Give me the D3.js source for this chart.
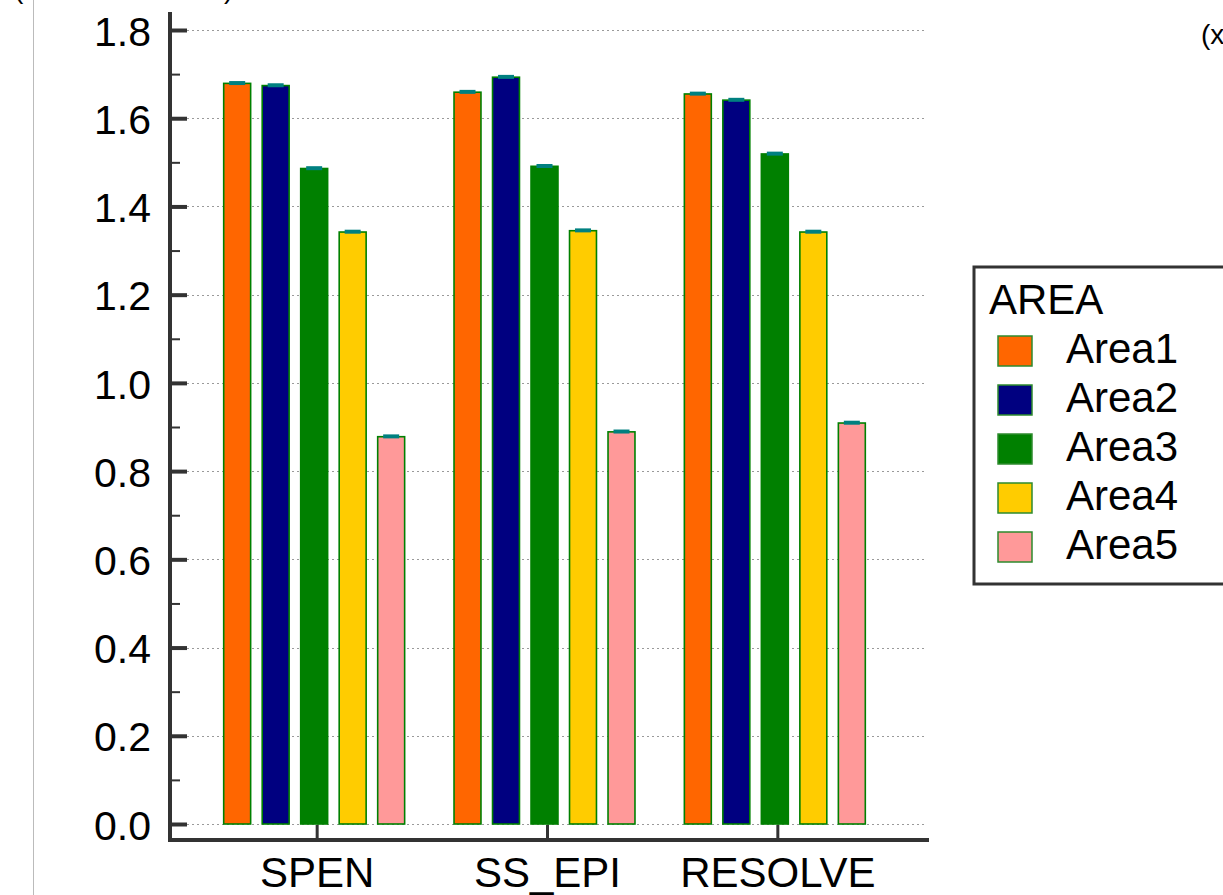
<!DOCTYPE html>
<html>
<head>
<meta charset="utf-8">
<script src="https://cdn.jsdelivr.net/npm/d3@7/dist/d3.min.js"></script>
<style>
  html, body { margin: 0; padding: 0; background: #fff; }
  svg { display: block; }
  text { font-family: "Liberation Sans", Arial, sans-serif; fill: #000; }
</style>
</head>
<body>
<svg id="chart" width="1223" height="895"></svg>
<script>
// ---- data ----
const categories = ["SPEN", "SS_EPI", "RESOLVE"];
const series = ["Area1", "Area2", "Area3", "Area4", "Area5"];
const area1 = [1.679, 1.659, 1.655];
const area2 = [1.674, 1.693, 1.641];
const area3 = [1.486, 1.491, 1.519];
const area4 = [1.342, 1.345, 1.342];
const area5 = [0.878, 0.889, 0.909];
const errors = [0.003, 0.003, 0.003];
const yTicks = [0.0, 0.2, 0.4, 0.6, 0.8, 1.0, 1.2, 1.4, 1.6, 1.8];
const yMinorTicks = [0.1, 0.3, 0.5, 0.7, 0.9, 1.1, 1.3, 1.5, 1.7];
const legendTitle = "AREA";
const colors = ["#FF6600", "#000080", "#008000", "#FFCC00", "#FF9999"];

const values = [area1, area2, area3, area4, area5];

const svg = d3.select("#chart");

// left frame line
svg.append("line").attr("x1", 33.5).attr("x2", 33.5).attr("y1", 0).attr("y2", 895)
  .attr("stroke", "#bbb").attr("stroke-width", 1);

// clipped texts at edges
svg.append("text").attr("x", 14).attr("y", -2).attr("font-size", 28).text("(");
svg.append("text").attr("x", 224).attr("y", -2).attr("font-size", 28).text(")");
svg.append("text").attr("x", 1201).attr("y", 44).attr("font-size", 28).text("(x");

const y = d3.scaleLinear().domain([0, 1.8]).range([824, 30]);
const x = d3.scaleBand().domain(categories).range([202, 893]).padding(0);
const x1 = d3.scaleBand().domain(series)
  .range([x.bandwidth() / 2 - 99.25, x.bandwidth() / 2 + 93.25])
  .paddingInner(0.3).paddingOuter(0.15);
const color = d3.scaleOrdinal().domain(series).range(colors);

// gridlines
svg.append("g").selectAll("line").data(yTicks).join("line")
  .attr("x1", 187).attr("x2", 926)
  .attr("y1", d => Math.round(y(d)) + 0.5).attr("y2", d => Math.round(y(d)) + 0.5)
  .attr("stroke", "#9a9a9a").attr("stroke-width", 1).attr("stroke-dasharray", "2,3");

// bars
const groups = svg.append("g").selectAll("g").data(categories).join("g")
  .attr("transform", d => `translate(${x(d)},0)`);

groups.each(function(cat, ci) {
  const g = d3.select(this);
  series.forEach((s, si) => {
    const v = values[si][ci];
    g.append("rect")
      .attr("x", x1(s)).attr("y", y(v))
      .attr("width", x1.bandwidth()).attr("height", y(0) - y(v))
      .attr("fill", color(s)).attr("stroke", "#008000").attr("stroke-width", 1.6);
    const e = errors[ci];
    const cx = x1(s) + x1.bandwidth() / 2;
    g.append("line").attr("x1", cx).attr("x2", cx).attr("y1", y(v)).attr("y2", y(v + e))
      .attr("stroke", "#008080").attr("stroke-width", 2);
    g.append("line").attr("x1", cx - 8).attr("x2", cx + 8)
      .attr("y1", y(v + e) + 1).attr("y2", y(v + e) + 1)
      .attr("stroke", "#008080").attr("stroke-width", 4);
  });
});

// y axis
const yAxis = d3.axisRight(y).tickValues(yTicks).tickSize(17).tickFormat("");
const gy = svg.append("g").attr("transform", "translate(170,0)").call(yAxis);
gy.select(".domain").remove();
gy.selectAll(".tick line").attr("stroke", "#333").attr("stroke-width", 4);
const yMinor = d3.axisRight(y).tickValues(yMinorTicks).tickSize(10).tickFormat("");
const gym = svg.append("g").attr("transform", "translate(170,0)").call(yMinor);
gym.select(".domain").remove();
gym.selectAll(".tick line").attr("stroke", "#333").attr("stroke-width", 2);

svg.append("g").selectAll("text").data(yTicks).join("text")
  .attr("x", 151).attr("y", d => y(d))
  .attr("text-anchor", "end").attr("dominant-baseline", "central")
  .attr("font-size", 41).attr("dy", "0.04em")
  .text(d => d3.format(".1f")(d));

svg.append("line").attr("x1", 170).attr("x2", 170).attr("y1", 12).attr("y2", 842)
  .attr("stroke", "#333").attr("stroke-width", 4);

// x axis
const xAxis = d3.axisTop(x).tickSize(15).tickFormat("");
const gx = svg.append("g").attr("transform", "translate(0,840)").call(xAxis);
gx.select(".domain").remove();
gx.selectAll(".tick line").attr("stroke", "#333").attr("stroke-width", 3);
svg.append("line").attr("x1", 168).attr("x2", 929).attr("y1", 840).attr("y2", 840)
  .attr("stroke", "#333").attr("stroke-width", 4);

svg.append("g").selectAll("text").data(categories).join("text")
  .attr("x", d => x(d) + x.bandwidth() / 2).attr("y", 887)
  .attr("text-anchor", "middle").attr("font-size", 42)
  .text(d => d);

// legend
const lg = svg.append("g");
lg.append("rect").attr("x", 974).attr("y", 267).attr("width", 270).attr("height", 317)
  .attr("fill", "#fff").attr("stroke", "#333").attr("stroke-width", 3);
lg.append("text").attr("x", 989).attr("y", 314).attr("font-size", 42).text(legendTitle);
series.forEach((s, i) => {
  lg.append("rect").attr("x", 998).attr("y", 336 + i * 49).attr("width", 34).attr("height", 30)
    .attr("fill", color(s)).attr("stroke", "#2e8b2e").attr("stroke-width", 1.5);
  lg.append("text").attr("x", 1066).attr("y", 363 + i * 49).attr("font-size", 42).text(s);
});
</script>
</body>
</html>
